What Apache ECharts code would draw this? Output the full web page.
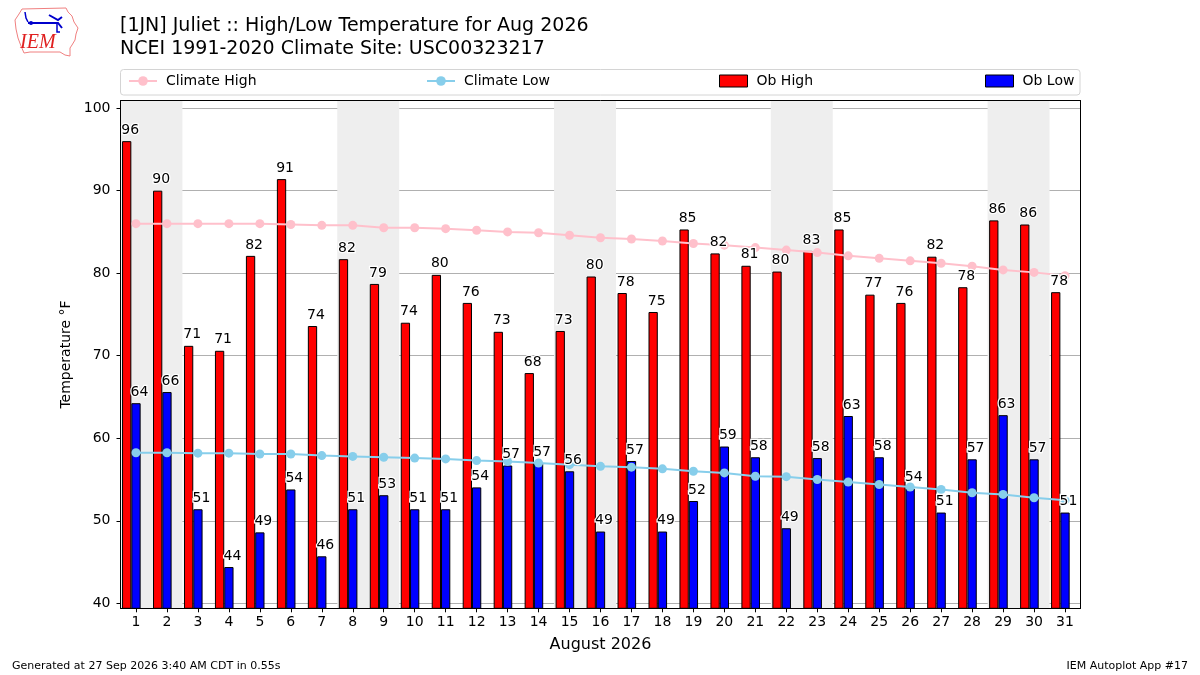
<!DOCTYPE html>
<html>
<head>
<meta charset="utf-8">
<script src="https://cdn.jsdelivr.net/npm/echarts@6/dist/echarts.min.js"></script>
<style>html,body{margin:0;padding:0;background:#fff;}#c{width:1200px;height:675px;}</style>
</head>
<body>
<div id="c"></div>
<script>
const days = ['1','2','3','4','5','6','7','8','9','10','11','12','13','14','15','16','17','18','19','20','21','22','23','24','25','26','27','28','29','30','31'];
const obHigh = [96.0,90.0,71.2,70.6,82.1,91.4,73.6,81.7,78.7,74.0,79.8,76.4,72.9,67.9,73.0,79.6,77.6,75.3,85.3,82.4,80.9,80.2,82.7,85.3,77.4,76.4,82.0,78.3,86.4,85.9,77.7];
const obLow = [64.25,65.6,51.4,44.4,48.6,53.8,45.7,51.4,53.1,51.4,51.4,54.05,56.7,57.0,56.0,48.7,57.25,48.7,52.4,59.0,57.7,49.1,57.6,62.7,57.7,53.9,51.0,57.45,62.8,57.45,51.0];
const climateHigh = [86.0,86.0,86.0,86.0,86.0,85.9,85.8,85.8,85.5,85.5,85.4,85.2,85.0,84.9,84.6,84.3,84.15,83.9,83.6,83.4,83.1,82.8,82.5,82.1,81.8,81.5,81.2,80.85,80.4,80.1,79.7];
const climateLow = [58.25,58.25,58.2,58.2,58.1,58.1,57.9,57.8,57.7,57.6,57.5,57.3,57.2,57.0,56.8,56.6,56.5,56.3,56.0,55.8,55.4,55.35,55.0,54.7,54.4,54.1,53.8,53.4,53.2,52.8,52.5];
const weekendDays = [1,2,8,9,15,16,22,23,29,30];
const yTicks = [40,50,60,70,80,90,100];
const yMin = 39.4, yMax = 100.9;

const FONT = 'DejaVu Sans';

// merge consecutive weekend days into continuous shaded spans
const bandSpans = [];
weekendDays.forEach(d => {
  const last = bandSpans[bandSpans.length - 1];
  if (last && last[1] === d - 1) last[1] = d; else bandSpans.push([d, d]);
});

const chart = echarts.init(document.getElementById('c'), null, {renderer:'canvas'});

const barLabel = {
  show: true, position: 'top', distance: 4, offset: [3.5, 0],
  color: '#000', fontSize: 14, fontFamily: FONT,
  textBorderColor: '#fff', textBorderWidth: 2.5,
  formatter: p => String(Math.round(p.value))
};
const empty = days.map(() => '-');

const legendCommon = {
  padding: 0, top: 74, itemHeight: 12, itemWidth: 28,
  textStyle: {fontSize: 14, fontFamily: FONT, color: '#000', padding: [0,0,0,4]},
  selectedMode: false
};

const option = {
  animation: false,
  backgroundColor: '#fff',
  title: [
    {text: '[1JN] Juliet :: High/Low Temperature for Aug 2026\nNCEI 1991-2020 Climate Site: USC00323217',
     left: 115, top: 10,
     textStyle: {fontSize: 19, lineHeight: 23, fontWeight: 'normal', fontFamily: FONT, color: '#000'}},
    {text: 'Generated at 27 Sep 2026 3:40 AM CDT in 0.55s', left: 7, top: 656,
     textStyle: {fontSize: 11, fontWeight: 'normal', fontFamily: FONT, color: '#000'}},
    {text: 'IEM Autoplot App #17', right: 7, top: 656,
     textStyle: {fontSize: 11, fontWeight: 'normal', fontFamily: FONT, color: '#000'}}
  ],
  legend: [
    Object.assign({}, legendCommon, {left: 128, data: ['Climate High']}),
    Object.assign({}, legendCommon, {left: 426, data: ['Climate Low']}),
    Object.assign({}, legendCommon, {left: 719, data: [{name: 'Ob High', icon: 'rect', itemStyle: {borderColor: '#000', borderWidth: 1}}]}),
    Object.assign({}, legendCommon, {left: 985, data: [{name: 'Ob Low', icon: 'rect', itemStyle: {borderColor: '#000', borderWidth: 1}}]})
  ],
  graphic: [
    {type: 'rect', z: -10, shape: {x: 120.5, y: 69.5, width: 959.5, height: 25.5, r: 3},
     style: {fill: '#fff', stroke: '#d4d4d4', lineWidth: 1}},
    {type: 'polygon', z: 10, shape: {points: [[22,9],[66,8],[68,12],[72,16],[74,22],[78,28],[76,34],[75,40],[72,45],[70,48],[70,56],[65,55],[60,52],[30,52],[24,53],[21,46],[18,38],[16,29],[15,20],[19,14]]},
     style: {fill: 'none', stroke: '#f08080', lineWidth: 1}},
    {type: 'text', z: 11, left: 20, top: 33, style: {text: 'IEM', fontSize: 20, fontStyle: 'italic', fontFamily: 'Liberation Serif', fill: '#e02020'}},
    {type: 'polyline', z: 11, shape: {points: [[28,23],[58,23],[62,28]]}, style: {stroke: '#0000cc', lineWidth: 2, fill: 'none'}},
    {type: 'polyline', z: 11, shape: {points: [[49,15],[58,20],[62,17]]}, style: {stroke: '#0000cc', lineWidth: 2, fill: 'none'}},
    {type: 'polyline', z: 11, shape: {points: [[25,12],[26,18],[28,22]]}, style: {stroke: '#0000cc', lineWidth: 1.5, fill: 'none'}},
    {type: 'polyline', z: 11, shape: {points: [[57,24],[57,32],[60,32]]}, style: {stroke: '#0000cc', lineWidth: 1.5, fill: 'none'}},
    {type: 'circle', z: 11, shape: {cx: 31, cy: 23, r: 2}, style: {fill: '#0000cc'}}
  ],
  grid: {left: 120.5, right: 119.5, top: 100.7, bottom: 66.7, show: false},
  xAxis: [
    {type: 'category', data: days, boundaryGap: true, z: 5,
     axisLine: {show: true, onZero: false, lineStyle: {color: '#000', width: 1}},
     axisTick: {show: true, alignWithLabel: true, length: 4, lineStyle: {color: '#000'}},
     axisLabel: {fontSize: 14, fontFamily: FONT, color: '#000', margin: 7},
     splitLine: {show: false},
     name: 'August 2026', nameLocation: 'middle', nameGap: 29,
     nameTextStyle: {fontSize: 16, fontFamily: FONT, color: '#000'}},
    {type: 'value', min: 0.5, max: 31.5, position: 'top', z: 5,
     axisLine: {show: true, onZero: false, lineStyle: {color: '#000', width: 1}},
     axisTick: {show: false}, axisLabel: {show: false}, splitLine: {show: false}},
    {type: 'category', data: days, boundaryGap: true, show: false}
  ],
  yAxis: [
    {type: 'value', min: yMin, max: yMax, z: 1,
     axisLine: {show: true, onZero: false, lineStyle: {color: '#000', width: 1}},
     axisTick: {show: true, length: 4, lineStyle: {color: '#000'}, customValues: yTicks},
     axisLabel: {fontSize: 14, fontFamily: FONT, color: '#000', margin: 10, customValues: yTicks},
     splitLine: {show: true, lineStyle: {color: '#b0b0b0', width: 1}},
     name: 'Temperature °F', nameLocation: 'middle', nameGap: 37,
     nameTextStyle: {fontSize: 14, fontFamily: FONT, color: '#000'}},
    {type: 'value', min: yMin, max: yMax, position: 'right', z: 5,
     axisLine: {show: true, onZero: false, lineStyle: {color: '#000', width: 1}},
     axisTick: {show: false}, axisLabel: {show: false}, splitLine: {show: false}}
  ],
  series: [
    {name: 'bands', type: 'line', xAxisIndex: 1, yAxisIndex: 0, data: [], z: 0, silent: true,
     markArea: {silent: true, itemStyle: {color: '#eeeeee'},
       data: bandSpans.map(s => [{xAxis: s[0] - 0.5}, {xAxis: s[1] + 0.5}])}},
    {name: 'Ob High', type: 'bar', data: obHigh, z: 2, barWidth: '30%', barGap: '0%',
     itemStyle: {color: '#ff0000', borderColor: '#000', borderWidth: 1}},
    {name: 'Ob Low', type: 'bar', data: obLow, z: 2, barWidth: '30%', barGap: '0%',
     itemStyle: {color: '#0000ff', borderColor: '#000', borderWidth: 1}},
    {name: 'pad', type: 'bar', data: empty, z: 2, barWidth: '30%', barGap: '0%'},
    {name: 'Climate High', type: 'line', data: climateHigh, z: 3, symbol: 'circle', symbolSize: 9,
     lineStyle: {color: '#ffc0cb', width: 2}, itemStyle: {color: '#ffc0cb'}},
    {name: 'Climate Low', type: 'line', data: climateLow, z: 3, symbol: 'circle', symbolSize: 9,
     lineStyle: {color: '#87ceeb', width: 2}, itemStyle: {color: '#87ceeb'}},
    {name: 'hiLabel', type: 'bar', xAxisIndex: 2, data: obHigh, z: 4, barWidth: '30%', barGap: '0%',
     itemStyle: {color: 'rgba(0,0,0,0)'}, label: barLabel, silent: true},
    {name: 'loLabel', type: 'bar', xAxisIndex: 2, data: obLow, z: 4, barWidth: '30%', barGap: '0%',
     itemStyle: {color: 'rgba(0,0,0,0)'}, label: barLabel, silent: true},
    {name: 'pad2', type: 'bar', xAxisIndex: 2, data: empty, z: 4, barWidth: '30%', barGap: '0%'}
  ]
};
chart.setOption(option);
</script>
</body>
</html>
